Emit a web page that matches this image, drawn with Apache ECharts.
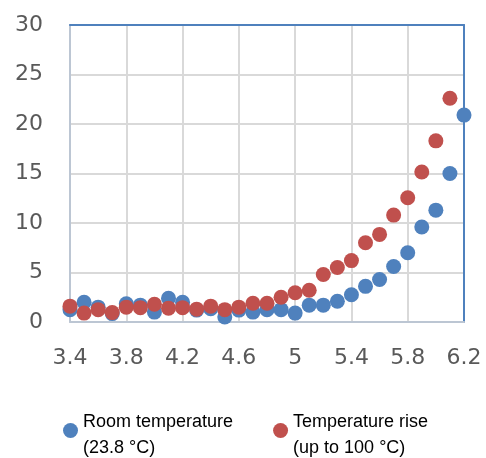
<!DOCTYPE html>
<html>
<head>
<meta charset="utf-8">
<script src="https://cdn.jsdelivr.net/npm/echarts@6/dist/echarts.min.js"></script>
<style>
  html, body { margin: 0; padding: 0; background: #fff; }
  #main { width: 486px; height: 458px; }
</style>
</head>
<body>
<div id="main"></div>
<script>
// x values (0.1 steps), y values
const xRoom = [3.4, 3.5, 3.6, 3.7, 3.8, 3.9, 4.0, 4.1, 4.2, 4.3, 4.4, 4.5, 4.6, 4.7, 4.8,
    4.9, 5.0, 5.1, 5.2, 5.3, 5.4, 5.5, 5.6, 5.7, 5.8, 5.9, 6.0, 6.1, 6.2];
const yRoom = [1.25, 2.0, 1.5, 0.85, 1.85, 1.7, 1.0, 2.4, 2.0, 1.2, 1.35, 0.5, 1.2, 1.0, 1.25,
    1.25, 0.9, 1.7, 1.7, 2.1, 2.75, 3.6, 4.3, 5.6, 7.0, 9.6, 11.3, 15.0, 20.9];
const xRise = [3.4, 3.5, 3.6, 3.7, 3.8, 3.9, 4.0, 4.1, 4.2, 4.3, 4.4, 4.5, 4.6, 4.7, 4.8,
    4.9, 5.0, 5.1, 5.2, 5.3, 5.4, 5.5, 5.6, 5.7, 5.8, 5.9, 6.0, 6.1];
const yRise = [1.6, 0.9, 1.25, 0.95, 1.5, 1.45, 1.8, 1.4, 1.45, 1.3, 1.6, 1.25, 1.5, 1.9, 1.9,
    2.5, 2.95, 3.2, 4.8, 5.5, 6.2, 8.0, 8.85, 10.8, 12.55, 15.15, 18.3, 22.6];
const seriesNames = ['Room temperature\n(23.8 °C)', 'Temperature rise\n(up to 100 °C)'];
const colors = ['#4f81bd', '#c0504d'];

// x axis starts at 3.4, ticks every 0.4 -> plot offset from X0 so ticks start at min
const X0 = 3.4;
const xMax = 6.2;
const xStep = 0.4;

function toPoints(xs, ys) {
    return xs.map(function (x, i) {
        return [+(x - X0).toFixed(2), ys[i]];
    });
}

const chart = echarts.init(document.getElementById('main'), null, {renderer: 'canvas'});

const axisLabelStyle = {
    color: '#595959',
    fontFamily: 'DejaVu Sans',
    fontSize: 22
};
const xRange = {min: 0, max: +(xMax - X0).toFixed(2), interval: xStep};
const yRange = {min: 0, max: 30, interval: 5};

chart.setOption({
    animation: false,
    backgroundColor: '#fff',
    color: colors,
    grid: {
        left: 70,
        right: 22,
        top: 25,
        bottom: 136
    },
    xAxis: [
        Object.assign({
            type: 'value',
            position: 'bottom',
            axisLine: {show: true, onZero: false, lineStyle: {color: '#bcc6d3', width: 2}},
            axisTick: {show: false},
            splitLine: {show: true, lineStyle: {color: '#d9d9d9', width: 2}},
            axisLabel: Object.assign({
                margin: 25,
                formatter: function (v) {
                    return String(+(v + X0).toFixed(1));
                }
            }, axisLabelStyle)
        }, xRange),
        // top border of the plot area
        Object.assign({
            type: 'value',
            position: 'top',
            axisLine: {show: true, onZero: false, lineStyle: {color: '#4f81bd', width: 2}},
            axisTick: {show: false},
            axisLabel: {show: false},
            splitLine: {show: false}
        }, xRange)
    ],
    yAxis: [
        Object.assign({
            type: 'value',
            position: 'left',
            axisLine: {show: true, onZero: false, lineStyle: {color: '#bcc6d3', width: 2}},
            axisTick: {show: false},
            splitLine: {show: true, lineStyle: {color: '#d9d9d9', width: 2}},
            axisLabel: Object.assign({margin: 27}, axisLabelStyle)
        }, yRange),
        // right border of the plot area
        Object.assign({
            type: 'value',
            position: 'right',
            axisLine: {show: true, onZero: false, lineStyle: {color: '#4f81bd', width: 2}},
            axisTick: {show: false},
            axisLabel: {show: false},
            splitLine: {show: false}
        }, yRange)
    ],
    legend: {
        left: 58,
        top: 399,
        icon: 'circle',
        itemWidth: 15,
        itemHeight: 15,
        itemGap: 40,
        // small spacer line on top so the marker sits beside the first text line
        formatter: function (name) {
            return '{s| }\n' + name.split('\n').map(function (t) {
                return '{a|' + t + '}';
            }).join('\n');
        },
        textStyle: {
            color: '#000',
            fontFamily: 'Liberation Sans',
            fontSize: 18,
            rich: {
                s: {fontSize: 1, lineHeight: 10},
                a: {color: '#000', fontFamily: 'Liberation Sans', fontSize: 18, lineHeight: 26}
            }
        },
        data: seriesNames
    },
    series: [
        {
            name: seriesNames[0],
            type: 'scatter',
            symbol: 'circle',
            symbolSize: 15,
            itemStyle: {color: colors[0], opacity: 1},
            data: toPoints(xRoom, yRoom)
        },
        {
            name: seriesNames[1],
            type: 'scatter',
            symbol: 'circle',
            symbolSize: 15,
            itemStyle: {color: colors[1], opacity: 1},
            data: toPoints(xRise, yRise)
        }
    ]
});
</script>
</body>
</html>
